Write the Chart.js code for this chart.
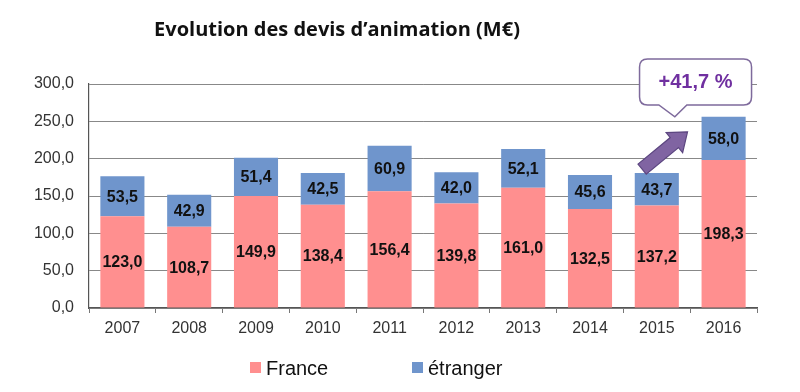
<!DOCTYPE html>
<html>
<head>
<meta charset="utf-8">
<script src="https://cdn.jsdelivr.net/npm/chart.js@4"></script>
<style>
  html, body { margin: 0; padding: 0; background: #fff; }
  #wrap { width: 800px; height: 392px; position: relative; }
</style>
</head>
<body>
<div id="wrap"><canvas id="chart"></canvas></div>
<script>
const years = ["2007", "2008", "2009", "2010", "2011", "2012", "2013", "2014", "2015", "2016"];
const france = [123.0, 108.7, 149.9, 138.4, 156.4, 139.8, 161.0, 132.5, 137.2, 198.3];
const etranger = [53.5, 42.9, 51.4, 42.5, 60.9, 42.0, 52.1, 45.6, 43.7, 58.0];
const yTickValues = [0, 50, 100, 150, 200, 250, 300];
const titleText = "Evolution des devis d\u2019animation (M\u20ac)";
const growthText = "+41,7 %";

const fmt = v => v.toFixed(1).replace(".", ",");

// title, value labels, legend, callout + arrow
const decorations = {
  id: "decorations",
  afterDatasetsDraw(chart) {
    const ctx = chart.ctx;
    const x = chart.scales.x, y = chart.scales.y;

    // value labels in the middle of each segment
    ctx.save();
    ctx.font = "bold 16px 'Liberation Sans', Arial, sans-serif";
    ctx.fillStyle = "#111";
    ctx.textAlign = "center";
    ctx.textBaseline = "middle";
    chart.data.datasets.forEach((ds, di) => {
      chart.getDatasetMeta(di).data.forEach((bar, i) => {
        const mid = (bar.y + bar.base) / 2;
        ctx.fillText(fmt(ds.data[i]), bar.x, mid + 1);
      });
    });
    ctx.restore();

    // title
    ctx.save();
    ctx.font = "bold 20px 'Open Sans', sans-serif";
    ctx.fillStyle = "#111";
    ctx.textAlign = "center";
    ctx.textBaseline = "middle";
    ctx.fillText(titleText, 337, 30);
    ctx.restore();

    // legend
    ctx.save();
    ctx.font = "20px 'Liberation Sans', Arial, sans-serif";
    ctx.textBaseline = "middle";
    const legendX = [250, 412];
    chart.data.datasets.forEach((ds, di) => {
      ctx.fillStyle = ds.backgroundColor;
      ctx.fillRect(legendX[di], 362, 11, 11);
      ctx.fillStyle = "#111";
      ctx.fillText(ds.label, legendX[di] + 16, 369);
    });
    ctx.restore();

    // growth arrow from 2015 to 2016
    const step = x.getPixelForValue(9) - x.getPixelForValue(8);
    const tx = x.getPixelForValue(8) - 0.22 * step, ty = y.getPixelForValue(186);
    const hx = x.getPixelForValue(8) + 0.46 * step, hy = y.getPixelForValue(236);
    const ang = Math.atan2(hy - ty, hx - tx);
    const len = Math.hypot(hx - tx, hy - ty);
    ctx.save();
    ctx.translate(tx, ty);
    ctx.rotate(ang);
    const sw = 6.5, hw = 13, hl = 17;
    ctx.beginPath();
    ctx.moveTo(0, -sw);
    ctx.lineTo(len - hl, -sw);
    ctx.lineTo(len - hl, -hw);
    ctx.lineTo(len, 0);
    ctx.lineTo(len - hl, hw);
    ctx.lineTo(len - hl, sw);
    ctx.lineTo(0, sw);
    ctx.closePath();
    ctx.fillStyle = "#8064a2";
    ctx.fill();
    ctx.strokeStyle = "#5c4680";
    ctx.lineWidth = 1.2;
    ctx.stroke();
    ctx.restore();

    // callout box
    const bx0 = x.getPixelForValue(9) - 0.42 * step - 56;
    const bx1 = bx0 + 112;
    const by0 = y.getPixelForValue(333.5), by1 = y.getPixelForValue(272);
    const px = x.getPixelForValue(9) - 0.73 * step, py = y.getPixelForValue(256);
    const r = 8;
    ctx.save();
    ctx.beginPath();
    ctx.moveTo(bx0 + r, by0);
    ctx.lineTo(bx1 - r, by0);
    ctx.quadraticCurveTo(bx1, by0, bx1, by0 + r);
    ctx.lineTo(bx1, by1 - r);
    ctx.quadraticCurveTo(bx1, by1, bx1 - r, by1);
    ctx.lineTo(px + 12, by1);
    ctx.lineTo(px, py);
    ctx.lineTo(px - 16, by1);
    ctx.lineTo(bx0 + r, by1);
    ctx.quadraticCurveTo(bx0, by1, bx0, by1 - r);
    ctx.lineTo(bx0, by0 + r);
    ctx.quadraticCurveTo(bx0, by0, bx0 + r, by0);
    ctx.closePath();
    ctx.fillStyle = "#fff";
    ctx.fill();
    ctx.strokeStyle = "#7e6a9c";
    ctx.lineWidth = 1.5;
    ctx.stroke();
    ctx.font = "bold 20px 'Liberation Sans', Arial, sans-serif";
    ctx.fillStyle = "#7030a0";
    ctx.textAlign = "center";
    ctx.textBaseline = "middle";
    ctx.fillText(growthText, (bx0 + bx1) / 2, (by0 + by1) / 2 + 1);
    ctx.restore();
  }
};

new Chart(document.getElementById("chart"), {
  type: "bar",
  data: {
    labels: years,
    datasets: [
      { label: "France", data: france, backgroundColor: "#ff8f8f" },
      { label: "\u00e9tranger", data: etranger, backgroundColor: "#6f95cc" }
    ]
  },
  options: {
    responsive: true,
    maintainAspectRatio: false,
    animation: false,
    layout: { padding: { top: 84, right: 43, bottom: 0, left: 0 } },
    plugins: {
      legend: { display: false },
      tooltip: { enabled: false }
    },
    datasets: { bar: { categoryPercentage: 0.66, barPercentage: 1 } },
    scales: {
      x: {
        stacked: true,
        afterFit: a => { a.height = 84; },
        grid: { drawOnChartArea: false, drawTicks: true, tickLength: 5, color: "#777", offset: true },
        border: { color: "#555", width: 1.2 },
        ticks: { color: "#333", padding: 6, font: { family: "'Liberation Sans', Arial, sans-serif", size: 16 } }
      },
      y: {
        stacked: true,
        min: 0,
        max: 300,
        afterFit: a => { a.width = 89; },
        afterBuildTicks: a => { a.ticks = yTickValues.map(v => ({ value: v })); },
        grid: { color: "#888", lineWidth: 1, drawTicks: false },
        border: { color: "#555", width: 1.2 },
        ticks: {
          color: "#333",
          padding: 15,
          font: { family: "'Liberation Sans', Arial, sans-serif", size: 16 },
          callback: v => fmt(v)
        }
      }
    }
  },
  plugins: [decorations]
});
</script>
</body>
</html>
